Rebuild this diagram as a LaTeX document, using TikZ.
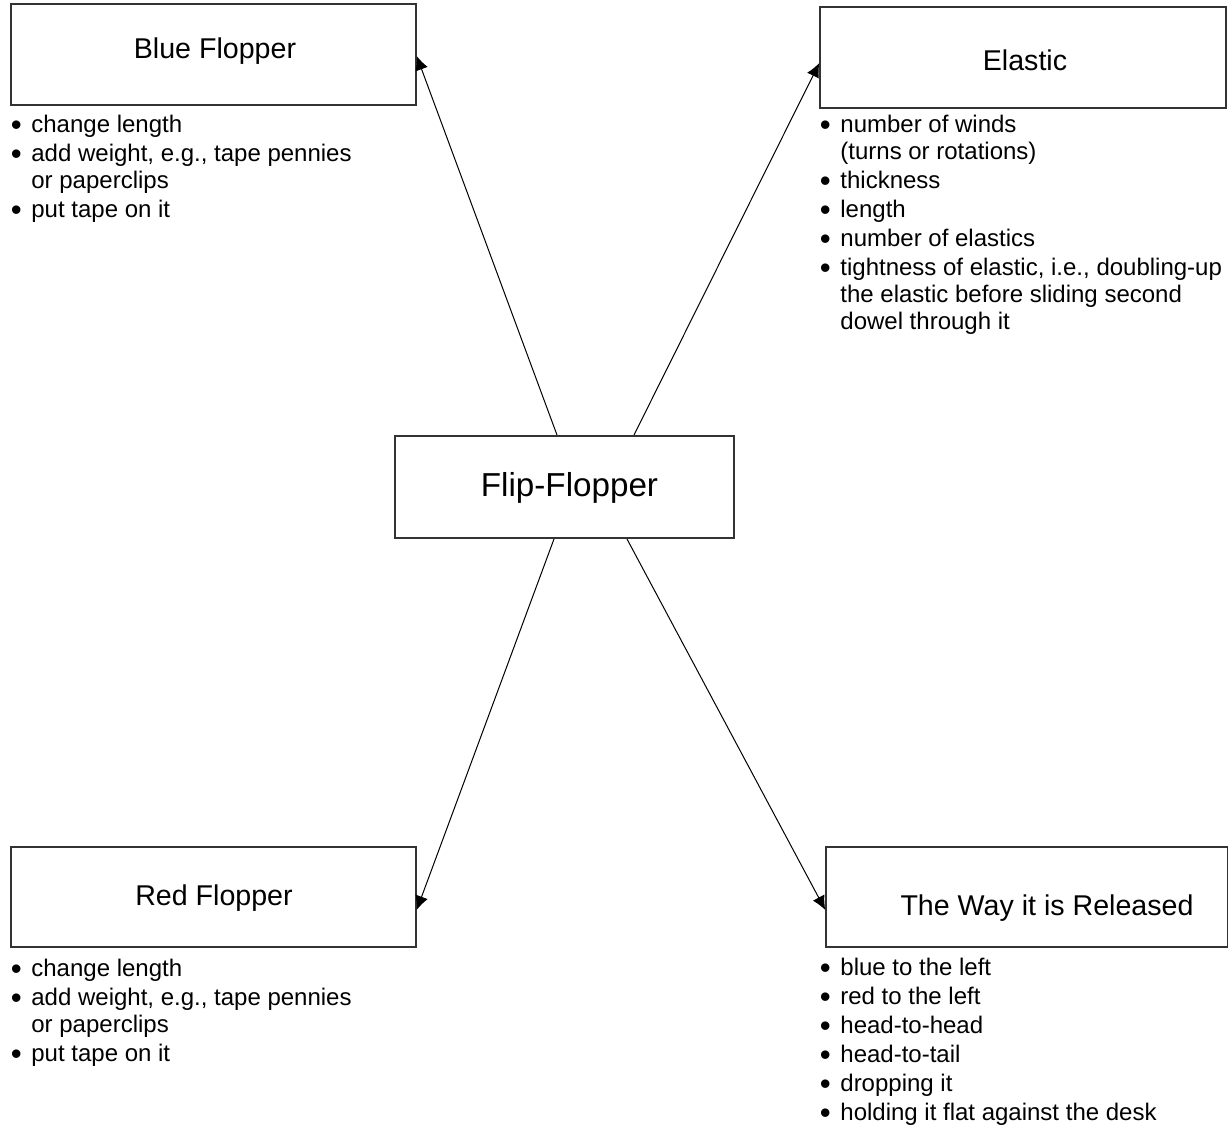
\documentclass[tikz,border=0pt]{standalone}
\usepackage{fontspec}
\setmainfont{Liberation Sans}
\usetikzlibrary{arrows.meta,calc}
\tikzstyle{box}=[draw=black!80,line width=0.7pt,inner sep=0pt]
\tikzstyle{title}=[anchor=base,inner sep=0pt,font=\fontsize{14.3}{17}\selectfont]
\tikzstyle{notes}=[anchor=north west,inner sep=0pt,align=left,font=\fontsize{12}{13.5}\selectfont]
\tikzstyle{edge} = [draw,line width=0.5pt,-{Latex[length=7pt,width=6.5pt]}]
\newcommand{\bul}{\makebox[10.25pt][l]{\raisebox{-1.2pt}{\scalebox{1.3}{\textbullet}}}}
\newcommand{\ind}{\hspace*{10.25pt}}

\begin{document}
\begin{tikzpicture}[x=0.5pt,y=-0.5pt]
    \useasboundingbox (0,0) rectangle (1228,1128);
    % The four outer boxes
    \foreach \pos/\name/\bw/\bh in {{(213.5,54.5)/blue/202.5/50.5}, {(1023,57.5)/elastic/203/50.5}, {(213.5,897)/red/202.5/50}, {(1027,897)/way/201/50}}
        \node[box,minimum width=\bw pt,minimum height=\bh pt] (\name) at \pos {};
    % and the middle one
    \node[box,line width=1pt,minimum width=169.5pt,minimum height=51pt] (flip) at (564.5,487) {};

    % Titles
    \foreach \pos/\name/\txt in {{(215,59)/blue-t/Blue Flopper}, {(1025,70.5)/elastic-t/Elastic}, {(214,906)/red-t/Red Flopper}, {(1047,915)/way-t/The Way it is Released}}
        \node[title] (\name) at \pos {\txt};
    \node[title,font=\fontsize{16.6}{20}\selectfont] (flip-t) at (569.5,497) {Flip-Flopper};

    % Lists under the boxes
    \node[notes] (blue-l) at (10.5,115) {\bul change length\\[1pt]
        \bul add weight, e.g., tape pennies\\ \ind or paperclips\\[1pt]
        \bul put tape on it};
    \node[notes] (elastic-l) at (819.5,115) {\bul number of winds\\ \ind (turns or rotations)\\[1pt]
        \bul thickness\\[1pt]
        \bul length\\[1pt]
        \bul number of elastics\\[1pt]
        \bul tightness of elastic, i.e., doubling-up\\ \ind the elastic before sliding second\\ \ind dowel through it};
    \node[notes] (red-l) at (10.5,959) {\bul change length\\[1pt]
        \bul add weight, e.g., tape pennies\\ \ind or paperclips\\[1pt]
        \bul put tape on it};
    \node[notes] (way-l) at (819.5,958) {\bul blue to the left\\[1pt]
        \bul red to the left\\[1pt]
        \bul head-to-head\\[1pt]
        \bul head-to-tail\\[1pt]
        \bul dropping it\\[1pt]
        \bul holding it flat against the desk};

    % Where the arrows leave and meet the boxes
    \coordinate (flip-nw) at ($(flip.north)+(-7.5,0)$);
    \coordinate (flip-ne) at ($(flip.north)+(69.5,0)$);
    \coordinate (flip-sw) at ($(flip.south)+(-10.5,0)$);
    \coordinate (flip-se) at ($(flip.south)+(62.5,0)$);
    \coordinate (blue-in) at ($(blue.east)+(0,1.5)$);
    \coordinate (elastic-in) at ($(elastic.west)+(0,5.5)$);
    \coordinate (red-in) at ($(red.east)+(0,13)$);
    \coordinate (way-in) at ($(way.west)+(0,13)$);

    % Connect them
    \foreach \source/ \dest in {flip-nw/blue-in, flip-ne/elastic-in, flip-sw/red-in, flip-se/way-in}
        \path[edge] (\source) -- (\dest) ;
\end{tikzpicture}
\end{document}
